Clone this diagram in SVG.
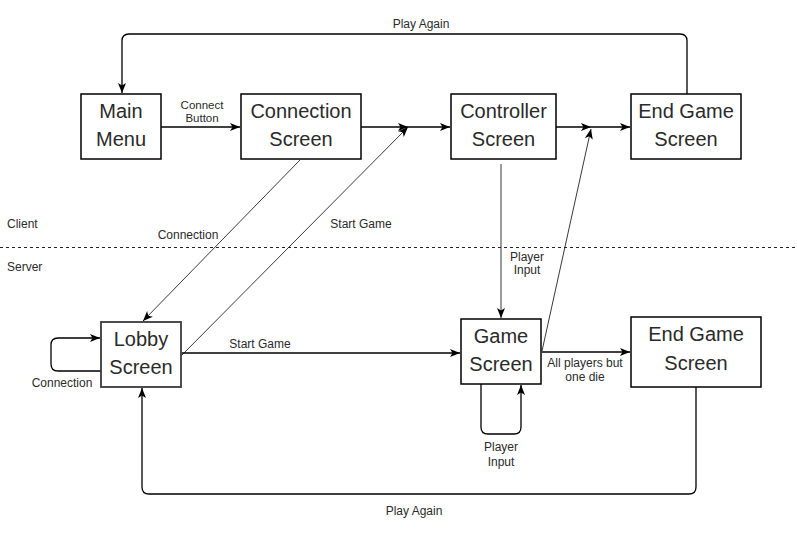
<svg xmlns="http://www.w3.org/2000/svg" width="797" height="547" viewBox="0 0 797 547">
<defs>
<marker id="arr" markerUnits="userSpaceOnUse" markerWidth="12" markerHeight="10" refX="10" refY="4" orient="auto">
<path d="M0,0 L10,4 L0,8 L2.5,4 z" fill="#000"/>
</marker>
<style>
.box{fill:#fff;stroke:#000;stroke-width:1.5}
.bt{font-family:"Liberation Sans",Arial,sans-serif;font-size:20px;fill:#2a2a2a;text-anchor:middle}
.lb{font-family:"Liberation Sans",Arial,sans-serif;font-size:12px;fill:#2a2a2a;text-anchor:middle}
.ls{font-family:"Liberation Sans",Arial,sans-serif;font-size:12px;fill:#2a2a2a;text-anchor:start}
.ln{fill:none;stroke:#000;stroke-width:1.3}
.thin{fill:none;stroke:#222;stroke-width:0.9}
</style>
</defs>
<rect width="797" height="547" fill="#fff"/>
<g id="connectors">
<path class="ln" d="M161,127 H240" marker-end="url(#arr)"/>
<path class="ln" d="M361,127 H408" marker-end="url(#arr)"/>
<path class="ln" d="M408,127 H450" marker-end="url(#arr)"/>
<path class="thin" d="M182,355 L408,127" marker-end="url(#arr)"/>
<path class="thin" d="M300,160 L143,321" marker-end="url(#arr)"/>
<path class="ln" d="M556,127 H591" stroke="#444" marker-end="url(#arr)"/>
<path class="ln" d="M591,127 H630" marker-end="url(#arr)"/>
<path class="thin" d="M542,351 L591,129" marker-end="url(#arr)"/>
<path class="ln" d="M687,94 V41 Q687,34 680,34 H129 Q122,34 122,41 V93" marker-end="url(#arr)"/>
<path class="thin" d="M501,164 V318" marker-end="url(#arr)"/>
<path class="ln" d="M101,371 H58 Q51,371 51,364 V345 Q51,338 58,338 H100" marker-end="url(#arr)"/>
<path class="ln" d="M182,353 H460" marker-end="url(#arr)"/>
<path class="ln" d="M542,352 H630" marker-end="url(#arr)"/>
<path class="ln" d="M481,384 V427 Q481,434 488,434 H514 Q521,434 521,427 V385" marker-end="url(#arr)"/>
<path class="ln" d="M696,387 V487 Q696,494 689,494 H149 Q142,494 142,487 V388" marker-end="url(#arr)"/>
<line x1="0" y1="247.5" x2="797" y2="247.5" stroke="#222" stroke-width="1" stroke-dasharray="3,3"/>
<text class="lb" x="421" y="28">Play Again</text>
<text class="lb" x="202" y="108.5" style="font-size:11.5px">Connect</text>
<text class="lb" x="202" y="122" style="font-size:11.5px">Button</text>
<text class="lb" x="188" y="239">Connection</text>
<text class="lb" x="361" y="228">Start Game</text>
<text class="lb" x="527" y="261">Player</text>
<text class="lb" x="527" y="274">Input</text>
<text class="lb" x="62" y="387">Connection</text>
<text class="lb" x="260" y="348">Start Game</text>
<text class="lb" x="585" y="367">All players but</text>
<text class="lb" x="585" y="381">one die</text>
<text class="lb" x="501" y="451">Player</text>
<text class="lb" x="501" y="466">Input</text>
<text class="lb" x="414" y="515">Play Again</text>
<text class="ls" x="7" y="228">Client</text>
<text class="ls" x="7" y="271">Server</text>
</g>
<g id="main-menu">
<rect class="box" x="81" y="94" width="80" height="65"/>
<text class="bt" x="121" y="118">Main</text>
<text class="bt" x="121" y="146">Menu</text>
</g>
<g id="connection-screen">
<rect class="box" x="241" y="94" width="120" height="65"/>
<text class="bt" x="301" y="118">Connection</text>
<text class="bt" x="301" y="146">Screen</text>
</g>
<g id="controller-screen">
<rect class="box" x="451" y="94" width="105" height="65"/>
<text class="bt" x="503.5" y="118">Controller</text>
<text class="bt" x="503.5" y="146">Screen</text>
</g>
<g id="end-game-client">
<rect class="box" x="631" y="94" width="110" height="65"/>
<text class="bt" x="686" y="118">End Game</text>
<text class="bt" x="686" y="146">Screen</text>
</g>
<g id="lobby-screen">
<rect class="box" x="101" y="322" width="80" height="65" style="stroke:#3a3a3a;stroke-width:1.8"/>
<text class="bt" x="141" y="346">Lobby</text>
<text class="bt" x="141" y="374">Screen</text>
</g>
<g id="game-screen">
<rect class="box" x="461" y="319" width="80" height="65"/>
<text class="bt" x="501" y="343">Game</text>
<text class="bt" x="501" y="371">Screen</text>
</g>
<g id="end-game-server">
<rect class="box" x="631" y="317" width="130" height="70"/>
<text class="bt" x="696" y="341">End Game</text>
<text class="bt" x="696" y="370">Screen</text>
</g>
</svg>
